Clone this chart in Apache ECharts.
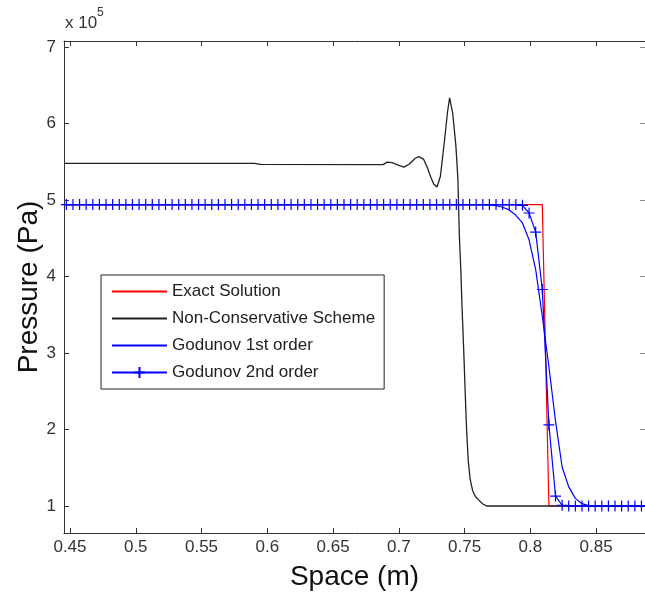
<!DOCTYPE html>
<html>
<head>
<meta charset="utf-8">
<script src="https://cdn.jsdelivr.net/npm/echarts@6/dist/echarts.min.js"></script>
<style>
html,body{margin:0;padding:0;background:#fff;}
#chart{width:645px;height:599px;}
</style>
</head>
<body>
<div id="chart"></div>
<script>
// Pressure values in units of 1e5 Pa
var seriesNames = ['Exact Solution', 'Non-Conservative Scheme', 'Godunov 1st order', 'Godunov 2nd order'];

var exactX = [0.4455, 0.80905, 0.81407, 0.8875];
var exactP = [4.94, 4.94, 1.0, 1.0];

var nonConsX = [0.4455, 0.59, 0.595, 0.688, 0.6911, 0.6949, 0.699, 0.7038, 0.708, 0.7125, 0.7152, 0.7189, 0.7215, 0.7240, 0.7265, 0.7290, 0.7316, 0.7348, 0.7370, 0.7386, 0.7409, 0.7434, 0.7449, 0.7460, 0.7472, 0.7480, 0.7487, 0.7496, 0.7505, 0.7515, 0.7527, 0.7542, 0.7561, 0.7583, 0.7606, 0.7636, 0.7667, 0.8875];
var nonConsP = [5.478, 5.478, 5.466, 5.462, 5.495, 5.487, 5.46, 5.43, 5.47, 5.545, 5.566, 5.53, 5.43, 5.31, 5.21, 5.17, 5.31, 5.79, 6.15, 6.336, 6.14, 5.70, 5.27, 4.53, 4.05, 3.61, 3.31, 2.9, 2.45, 2.0, 1.6, 1.35, 1.2, 1.12, 1.08, 1.03, 1.0, 1.0];

var god1X = [0.4455, 0.76382, 0.76884, 0.77387, 0.77889, 0.78392, 0.78894, 0.79397, 0.79899, 0.80402, 0.80905, 0.81407, 0.81910, 0.82412, 0.82915, 0.83417, 0.83920, 0.84422, 0.84925, 0.8875];
var god1P = [4.94, 4.94, 4.937, 4.925, 4.905, 4.87, 4.80, 4.70, 4.48, 4.09, 3.48, 2.82, 2.11, 1.51, 1.25, 1.10, 1.03, 1.005, 1.0, 1.0];

var god2X = [
 0.44724, 0.45226, 0.45729, 0.46231, 0.46734, 0.47236, 0.47739, 0.48241, 0.48744, 0.49246,
 0.49749, 0.50251, 0.50754, 0.51256, 0.51759, 0.52261, 0.52764, 0.53266, 0.53769, 0.54271,
 0.54774, 0.55276, 0.55779, 0.56281, 0.56784, 0.57286, 0.57789, 0.58291, 0.58794, 0.59296,
 0.59799, 0.60302, 0.60804, 0.61307, 0.61809, 0.62312, 0.62814, 0.63317, 0.63819, 0.64322,
 0.64824, 0.65327, 0.65829, 0.66332, 0.66834, 0.67337, 0.67839, 0.68342, 0.68844, 0.69347,
 0.69849, 0.70352, 0.70854, 0.71357, 0.71859, 0.72362, 0.72864, 0.73367, 0.73869, 0.74372,
 0.74874, 0.75377, 0.75879, 0.76382, 0.76884, 0.77387, 0.77889, 0.78392, 0.78894, 0.79397,
 0.79899, 0.80402, 0.80905, 0.81407, 0.81910, 0.82412, 0.82915, 0.83417, 0.83920, 0.84422,
 0.84925, 0.85427, 0.85930, 0.86432, 0.86935, 0.87437, 0.87940, 0.88442, 0.88945];
var god2P = [
 4.94, 4.94, 4.94, 4.94, 4.94, 4.94, 4.94, 4.94, 4.94, 4.94,
 4.94, 4.94, 4.94, 4.94, 4.94, 4.94, 4.94, 4.94, 4.94, 4.94,
 4.94, 4.94, 4.94, 4.94, 4.94, 4.94, 4.94, 4.94, 4.94, 4.94,
 4.94, 4.94, 4.94, 4.94, 4.94, 4.94, 4.94, 4.94, 4.94, 4.94,
 4.94, 4.94, 4.94, 4.94, 4.94, 4.94, 4.94, 4.94, 4.94, 4.94,
 4.94, 4.94, 4.94, 4.94, 4.94, 4.94, 4.94, 4.94, 4.94, 4.94,
 4.94, 4.94, 4.94, 4.94, 4.94, 4.94, 4.94, 4.94, 4.94, 4.93,
 4.83, 4.58, 3.83, 2.06, 1.13, 1.01, 1.0, 1.0, 1.0, 1.0,
 1.0, 1.0, 1.0, 1.0, 1.0, 1.0, 1.0, 1.0, 1.0];

var xTicks = [0.45, 0.5, 0.55, 0.6, 0.65, 0.7, 0.75, 0.8, 0.85];
var yTicks = [1, 2, 3, 4, 5, 6, 7];
var xTitle = 'Space (m)';
var yTitle = 'Pressure (Pa)';

function pairs(xs, ys) { return xs.map(function (x, i) { return [x, ys[i]]; }); }

var FONT = '"Liberation Sans", Arial, sans-serif';
var AX = '#333333';
var X_MIN = 0.445455, X_MAX = 0.887121, Y_MIN = 0.647, Y_MAX = 7.078;
var NOFILL = 'rgba(0,0,0,0)';

var chart = echarts.init(document.getElementById('chart'), null, {renderer: 'canvas'});
var crossSymbol = 'path://M0,5L10,5M5,0L5,10';

var option = {
  animation: false,
  backgroundColor: '#ffffff',
  grid: {left: 64, right: -2, top: 41, bottom: 66, containLabel: false},
  xAxis: [{
    type: 'value', min: X_MIN, max: X_MAX, position: 'bottom',
    name: xTitle, nameLocation: 'middle', nameGap: 30, nameMoveOverlap: false,
    nameTextStyle: {fontFamily: FONT, fontSize: 28, color: '#111'},
    axisLine: {show: true, onZero: false, lineStyle: {color: AX, width: 1}},
    axisTick: {show: true, inside: true, length: 5, customValues: xTicks, lineStyle: {color: AX}},
    axisLabel: {show: true, customValues: xTicks, margin: 6, fontFamily: FONT, fontSize: 17, color: '#333',
      formatter: function (v) { return String(+v.toFixed(2)); }},
    splitLine: {show: false}
  }, {
    type: 'value', min: X_MIN, max: X_MAX, position: 'top',
    axisLine: {show: true, onZero: false, lineStyle: {color: AX, width: 1}},
    axisTick: {show: true, inside: true, length: 5, customValues: xTicks, lineStyle: {color: AX}},
    axisLabel: {show: false}, splitLine: {show: false}
  }],
  yAxis: [{
    type: 'value', min: Y_MIN, max: Y_MAX, position: 'left',
    name: yTitle, nameLocation: 'middle', nameGap: 21, nameRotate: 90, nameMoveOverlap: false,
    nameTextStyle: {fontFamily: FONT, fontSize: 28, color: '#111'},
    axisLine: {show: true, onZero: false, lineStyle: {color: AX, width: 1}},
    axisTick: {show: true, inside: true, length: 5, customValues: yTicks, lineStyle: {color: AX}},
    axisLabel: {show: true, customValues: yTicks, margin: 8, fontFamily: FONT, fontSize: 17, color: '#333'},
    splitLine: {show: false}
  }, {
    type: 'value', min: Y_MIN, max: Y_MAX, position: 'right',
    axisLine: {show: true, onZero: false, lineStyle: {color: AX, width: 1}},
    axisTick: {show: true, inside: true, length: 5, customValues: yTicks, lineStyle: {color: '#888'}},
    axisLabel: {show: false}, splitLine: {show: false}
  }],
  legend: {
    orient: 'vertical', left: 101, top: 275,
    padding: [8, 9, 8, 10], itemGap: 10, itemWidth: 55, itemHeight: 14,
    borderColor: '#222', borderWidth: 1, backgroundColor: '#fff',
    textStyle: {fontFamily: FONT, fontSize: 17, color: '#222'},
    data: seriesNames
  },
  graphic: [
    {type: 'text', left: 65, top: 15, style: {text: 'x 10', font: '17px ' + FONT, fill: '#333'}},
    {type: 'text', left: 97, top: 7, style: {text: '5', font: '12px ' + FONT, fill: '#333'}}
  ],
  series: [
    {name: seriesNames[0], type: 'line', data: pairs(exactX, exactP), symbol: 'none',
      lineStyle: {color: '#ff0000', width: 1.2}, itemStyle: {color: NOFILL, borderWidth: 0}},
    {name: seriesNames[1], type: 'line', data: pairs(nonConsX, nonConsP), symbol: 'none',
      lineStyle: {color: '#222222', width: 1.3}, itemStyle: {color: NOFILL, borderWidth: 0}},
    {name: seriesNames[2], type: 'line', data: pairs(god1X, god1P), symbol: 'none',
      lineStyle: {color: '#0000ff', width: 1.2}, itemStyle: {color: NOFILL, borderWidth: 0}},
    {name: seriesNames[3], type: 'line', data: pairs(god2X, god2P), symbol: crossSymbol, symbolSize: 11,
      showSymbol: true,
      lineStyle: {color: '#0000ff', width: 1.2},
      itemStyle: {color: '#0000ff', borderColor: '#0000ff', borderWidth: 1.2}}
  ]
};
chart.setOption(option);
</script>
</body>
</html>
